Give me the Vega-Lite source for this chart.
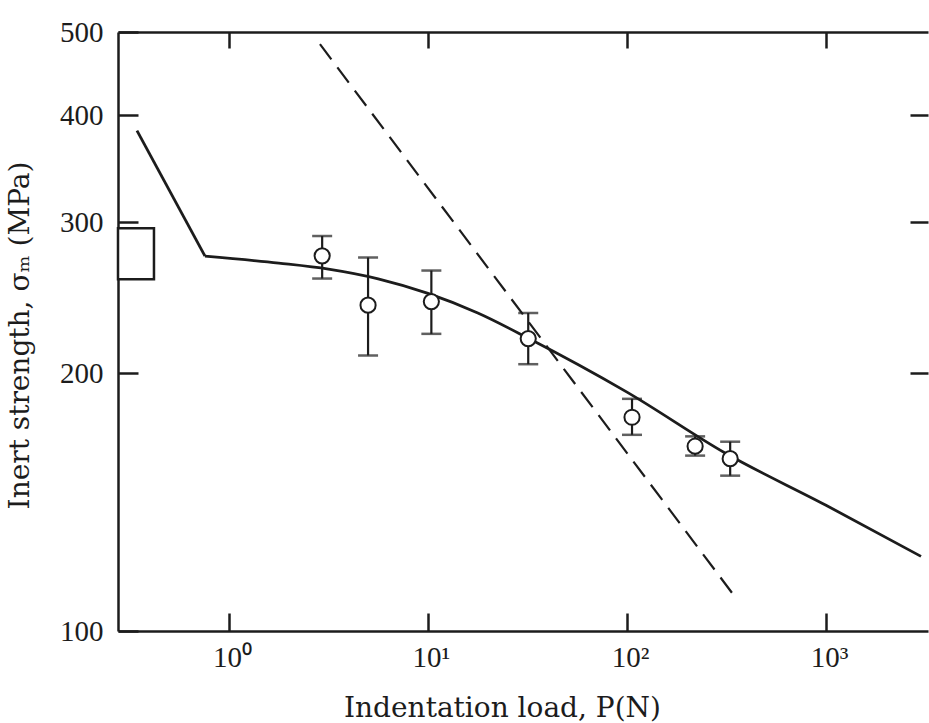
{
  "$schema": "https://vega.github.io/schema/vega-lite/v6.json",
  "width": 810,
  "height": 599,
  "autosize": {"type": "none"},
  "padding": {"left": 118, "top": 32, "right": 1, "bottom": 92},
  "background": "white",
  "config": {
    "view": {"stroke": null},
    "axis": {
      "domainColor": "#1c1c1c",
      "tickColor": "#1c1c1c",
      "labelColor": "#1c1c1c",
      "titleColor": "#1c1c1c",
      "grid": false,
      "labelFont": "Liberation Serif",
      "titleFont": "DejaVu Serif",
      "labelFontSize": 29,
      "titleFontSize": 28,
      "titleFontWeight": "normal",
      "domainWidth": 2.5,
      "tickWidth": 2.5,
      "labelFlush": false,
      "labelOverlap": false
    }
  },
  "datasets": {
    "box": [{"P0": 0.277, "P1": 0.42, "s0": 257.3, "s1": 295.1}],
    "dash": [
      {"P": 2.866, "sigma": 483.9},
      {"P": 342, "sigma": 110.3}
    ],
    "steep": [
      {"P": 0.345, "sigma": 383.6},
      {"P": 0.758, "sigma": 273.8}
    ],
    "curve": [
      {"P": 0.758, "sigma": 273.8},
      {"P": 1.78, "sigma": 268.7},
      {"P": 3.16, "sigma": 264.4},
      {"P": 5.62, "sigma": 257.6},
      {"P": 10.0, "sigma": 247.7},
      {"P": 17.8, "sigma": 235.0},
      {"P": 31.6, "sigma": 219.9},
      {"P": 100, "sigma": 190.0},
      {"P": 316, "sigma": 161.0},
      {"P": 1000, "sigma": 140.2},
      {"P": 3002, "sigma": 122.2}
    ],
    "pts": [
      {"P": 2.94, "sigma": 274.0, "lo": 257.8, "hi": 289.0},
      {"P": 5.0, "sigma": 240.0, "lo": 209.7, "hi": 272.8},
      {"P": 10.4, "sigma": 242.3, "lo": 222.2, "hi": 263.4},
      {"P": 31.9, "sigma": 219.4, "lo": 204.8, "hi": 235.0},
      {"P": 106, "sigma": 177.6, "lo": 169.4, "hi": 186.6},
      {"P": 220, "sigma": 164.3, "lo": 160.2, "hi": 168.7},
      {"P": 330, "sigma": 158.9, "lo": 151.8, "hi": 166.3}
    ]
  },
  "resolve": {"axis": {"x": "independent", "y": "independent"}},
  "layer": [
    {
      "data": {"name": "box"},
      "mark": {"type": "rect", "fill": "white", "stroke": "#1c1c1c", "strokeWidth": 2.5},
      "encoding": {
        "x": {
          "field": "P0", "type": "quantitative",
          "scale": {"type": "log", "domain": [0.277, 3255], "nice": false},
          "axis": {
            "orient": "bottom",
            "values": [1, 10, 100, 1000],
            "labelExpr": "datum.value == 1 ? '10⁰' : datum.value == 10 ? '10¹' : datum.value == 100 ? '10²' : '10³'",
            "tickSize": -18,
            "labelPadding": 30,
            "labelAlign": "center",
            "labelOffset": 3,
            "title": "Indentation load, P(N)",
            "titleX": 384,
            "titleY": 85,
            "titleBaseline": "alphabetic",
            "titleAlign": "center"
          }
        },
        "x2": {"field": "P1"},
        "y": {
          "field": "s0", "type": "quantitative",
          "scale": {"type": "log", "domain": [100, 500], "nice": false},
          "axis": {
            "orient": "left",
            "values": [100, 200, 300, 400, 500],
            "tickSize": -20,
            "labelPadding": 35,
            "title": "Inert strength, σₘ (MPa)",
            "titleX": -84,
            "titleY": 303,
            "titleAngle": 270,
            "titleBaseline": "bottom",
            "titleAlign": "center"
          }
        },
        "y2": {"field": "s1"}
      }
    },
    {
      "data": {"name": "dash"},
      "mark": {"type": "line", "strokeDash": [19, 10], "strokeWidth": 2.2, "color": "#1c1c1c"},
      "encoding": {
        "x": {
          "field": "P", "type": "quantitative",
          "axis": {"orient": "top", "values": [1, 10, 100, 1000], "labels": false, "tickSize": -16, "title": null}
        },
        "y": {
          "field": "sigma", "type": "quantitative",
          "axis": {"orient": "right", "values": [200, 300, 400], "labels": false, "tickSize": -18, "domain": false, "title": null}
        }
      }
    },
    {
      "data": {"name": "steep"},
      "mark": {"type": "line", "strokeWidth": 2.8, "color": "#1c1c1c"},
      "encoding": {
        "x": {"field": "P", "type": "quantitative", "axis": null},
        "y": {"field": "sigma", "type": "quantitative", "axis": null}
      }
    },
    {
      "data": {"name": "curve"},
      "mark": {"type": "line", "strokeWidth": 2.8, "color": "#1c1c1c", "interpolate": "monotone"},
      "encoding": {
        "x": {"field": "P", "type": "quantitative", "axis": null},
        "y": {"field": "sigma", "type": "quantitative", "axis": null}
      }
    },
    {
      "data": {"name": "pts"},
      "mark": {"type": "rule", "strokeWidth": 2.2, "color": "#1c1c1c"},
      "encoding": {
        "x": {"field": "P", "type": "quantitative", "axis": null},
        "y": {"field": "lo", "type": "quantitative", "axis": null},
        "y2": {"field": "hi"}
      }
    },
    {
      "data": {"name": "pts"},
      "mark": {"type": "tick", "orient": "horizontal", "size": 20, "thickness": 2.5, "color": "#1c1c1c"},
      "encoding": {
        "x": {"field": "P", "type": "quantitative", "axis": null},
        "y": {"field": "hi", "type": "quantitative", "axis": null}
      }
    },
    {
      "data": {"name": "pts"},
      "mark": {"type": "tick", "orient": "horizontal", "size": 20, "thickness": 2.5, "color": "#1c1c1c"},
      "encoding": {
        "x": {"field": "P", "type": "quantitative", "axis": null},
        "y": {"field": "lo", "type": "quantitative", "axis": null}
      }
    },
    {
      "data": {"name": "pts"},
      "mark": {"type": "point", "shape": "circle", "filled": true, "fill": "white", "stroke": "#1c1c1c", "strokeWidth": 2, "size": 230, "opacity": 1},
      "encoding": {
        "x": {"field": "P", "type": "quantitative", "axis": null},
        "y": {"field": "sigma", "type": "quantitative", "axis": null}
      }
    }
  ]
}
